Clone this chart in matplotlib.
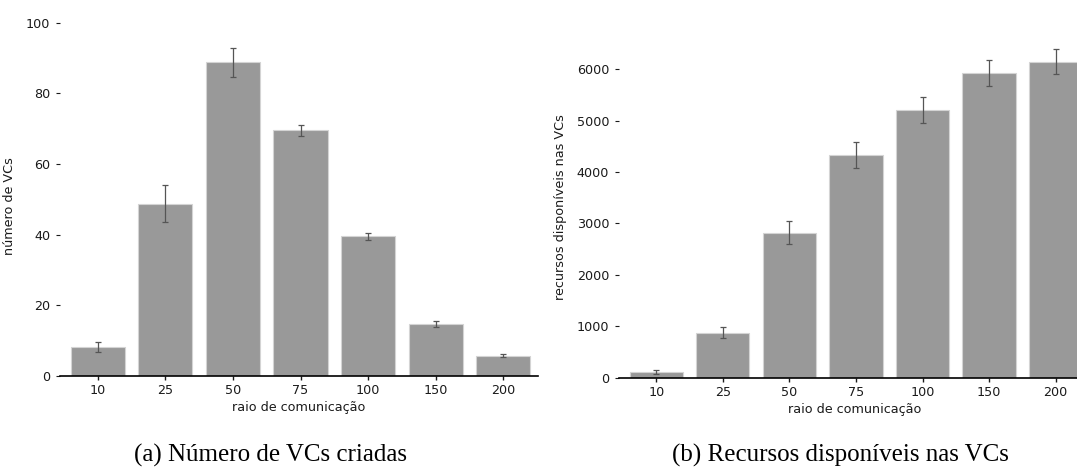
import numpy as np
import matplotlib
matplotlib.use('Agg')
import matplotlib.pyplot as plt

# data
raios = ['10', '25', '50', '75', '100', '150', '200']
num_vcs = [8.2, 48.8, 88.8, 69.5, 39.5, 14.8, 5.7]
num_vcs_err = [1.5, 5.3, 4.1, 1.5, 1.1, 0.9, 0.4]
recursos = [115, 877, 2823, 4331, 5201, 5930, 6149]
recursos_err = [35, 100, 230, 255, 255, 250, 245]

W, H = 1077, 468
fig = plt.figure(figsize=(W / 100, H / 100), dpi=100)
plt.rcParams['font.family'] = 'DejaVu Sans'

bar_color = '#999999'
edge_color = '#d4d4d4'
err_color = '#555555'
tick_fs = 9.2


def draw_panel(ax, values, errors, ylabel, ylim, yticks, label_x):
    x = np.arange(len(raios))
    ax.bar(x, values, width=0.8, color=bar_color, edgecolor=edge_color, linewidth=0.8,
           yerr=errors, error_kw={'ecolor': err_color, 'elinewidth': 0.9, 'capsize': 2.3, 'capthick': 0.9})
    ax.set_xlim(-0.56, 6.52)
    ax.set_ylim(*ylim)
    ax.set_xticks(x)
    ax.set_xticklabels(raios)
    ax.set_yticks(yticks)
    for s in ['top', 'right', 'left']:
        ax.spines[s].set_visible(False)
    ax.spines['bottom'].set_linewidth(1.2)
    ax.tick_params(axis='x', length=3, width=1, labelsize=tick_fs, colors='#1a1a1a', pad=3)
    ax.tick_params(axis='y', length=3, width=0.8, labelsize=tick_fs, colors='#1a1a1a', pad=4)
    ax.set_xlabel('raio de comunicação', fontsize=tick_fs, color='#1a1a1a', labelpad=3)
    ax.set_ylabel(ylabel, fontsize=tick_fs, color='#1a1a1a')
    ax.yaxis.set_label_coords(label_x, 0.48)


# left panel
l0, r0 = 60, 538.3
ax1 = fig.add_axes([l0 / W, (H - 376) / H, (r0 - l0) / W, (376 - 22.7) / H])
draw_panel(ax1, num_vcs, num_vcs_err, 'número de VCs', (0, 100), np.arange(0, 101, 20),
           (16 - l0) / (r0 - l0))

# right panel (cut at the figure's right edge, as in the reference)
l1, r1 = 619, 1090.3
ax2 = fig.add_axes([l1 / W, (H - 377.7) / H, (r1 - l1) / W, (377.7 - 22.7) / H])
draw_panel(ax2, recursos, recursos_err, 'recursos disponíveis nas VCs', (0, 6906),
           np.arange(0, 6001, 1000), (567 - l1) / (r1 - l1))

# captions
cap_font = {'family': 'Liberation Serif', 'size': 18}
fig.text(270 / W, 1 - 462 / H, '(a) Número de VCs criadas', ha='center', va='baseline', fontdict=cap_font)
fig.text(840 / W, 1 - 462 / H, '(b) Recursos disponíveis nas VCs', ha='center', va='baseline', fontdict=cap_font)

fig.savefig('out.png', dpi=100, facecolor='white')
